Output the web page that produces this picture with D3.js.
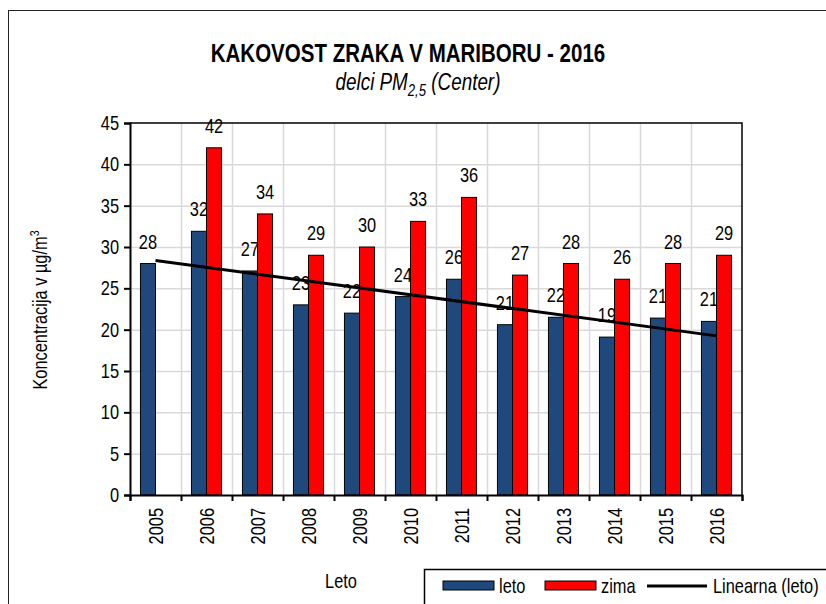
<!DOCTYPE html>
<meta charset="utf-8">
<style>
  body { margin: 0; background: #fff; }
  svg text { font-family: "Liberation Sans", Arial, sans-serif; fill: #000; }
</style>
<svg id="chart" width="826" height="604"></svg>
<script src="https://d3js.org/d3.v7.min.js"></script>
<script>

// values
var years = ["2005", "2006", "2007", "2008", "2009", "2010", "2011", "2012", "2013", "2014", "2015", "2016"];
var leto = [28, 31.9, 27.1, 23, 22, 24, 26.1, 20.6, 21.5, 19.1, 21.4, 21];
var zima = [null, 42, 34, 29, 30, 33.1, 36, 26.6, 28, 26.1, 28, 29];
var yTicks = [0, 5, 10, 15, 20, 25, 30, 35, 40, 45];
var colors = {leto: "#1f497d", zima: "#ff0000"};

// no Arial Narrow here, so squeeze normal Arial-metric text around its anchor
var NARROW = 0.82;
function narrow(sel) {
  sel.each(function() {
    var t = d3.select(this),
        tx = +t.attr("x") || 0,
        ty = +t.attr("y") || 0,
        tr = t.attr("transform") || "";
    t.attr("transform", tr + " translate(" + tx + "," + ty + ") scale(" + NARROW + ",1) translate(" + (-tx) + "," + (-ty) + ")");
  });
}

var svg = d3.select("#chart"),
    margin = {top: 123, right: 84, bottom: 109, left: 130},
    width = +svg.attr("width") - margin.left - margin.right,
    height = +svg.attr("height") - margin.top - margin.bottom;

// outer chart frame (runs off the right and bottom of the picture)
svg.append("rect")
    .attr("x", 8.5).attr("y", 10.5)
    .attr("width", 840).attr("height", 620)
    .attr("fill", "none")
    .attr("stroke", "#222")
    .attr("stroke-width", 1);

var g = svg.append("g").attr("transform", "translate(" + margin.left + "," + margin.top + ")");

var x = d3.scaleBand().domain(years).range([0, width]);
var xb = d3.scaleLinear().domain([0, years.length]).range([0, width]);
var y = d3.scaleLinear().domain([0, 45]).range([height, 0]);
var barW = x.bandwidth() * 0.295;

// grid
g.append("g")
    .call(d3.axisLeft(y).tickValues(yTicks.slice(1, -1)).tickSize(-width).tickFormat(""))
    .call(function(s) { s.select(".domain").remove(); })
    .selectAll("line").attr("stroke", "#d9d9d9").attr("stroke-width", 1.5);
g.append("g")
    .call(d3.axisBottom(xb).tickValues(d3.range(1, years.length)).tickSize(height).tickFormat(""))
    .call(function(s) { s.select(".domain").remove(); })
    .selectAll("line").attr("stroke", "#d9d9d9").attr("stroke-width", 1.5);

// frame top / right
g.append("path")
    .attr("d", d3.line()([[0, 0], [width, 0], [width, height]]))
    .attr("fill", "none").attr("stroke", "#000").attr("stroke-width", 1.5);

// bars
function bars(key, data, dx) {
  var pts = data.map(function(v, i) { return {year: years[i], v: v}; })
                .filter(function(d) { return d.v != null; });
  g.append("g").selectAll("rect")
      .data(pts).enter().append("rect")
      .attr("x", function(d) { return x(d.year) + x.bandwidth() / 2 + dx; })
      .attr("y", function(d) { return y(d.v); })
      .attr("width", barW)
      .attr("height", function(d) { return height - y(d.v); })
      .attr("fill", colors[key])
      .attr("stroke", "#000")
      .attr("stroke-width", 1);
  g.append("g").selectAll("text")
      .data(pts).enter().append("text")
      .attr("x", function(d) { return x(d.year) + x.bandwidth() / 2 + dx + barW / 2; })
      .attr("y", function(d) { return y(d.v) - 15; })
      .attr("text-anchor", "middle")
      .style("font-size", "20px")
      .text(function(d) { return d3.format(".0f")(d.v); })
      .call(narrow);
}
bars("leto", leto, -barW);
bars("zima", zima, 0);

// linear trend of leto (least squares)
var xs = leto.map(function(v, i) { return i + 1; });
var mx = d3.mean(xs), my = d3.mean(leto);
var slope = d3.sum(xs, function(xi, i) { return (xi - mx) * (leto[i] - my); }) /
            d3.sum(xs, function(xi) { return (xi - mx) * (xi - mx); });
var icpt = my - slope * mx;
var trend = [1, years.length].map(function(k) {
  return [x(years[k - 1]) + x.bandwidth() / 2, y(icpt + slope * k)];
});
g.append("path")
    .attr("d", d3.line()(trend))
    .attr("stroke", "#000").attr("stroke-width", 3).attr("fill", "none");

// axes
var ya = g.append("g")
    .call(d3.axisLeft(y).tickValues(yTicks).tickSize(6).tickPadding(5));
ya.attr("font-family", null);
ya.selectAll("text").style("font-size", "20px").call(narrow);
ya.selectAll("line, path").attr("stroke", "#000").attr("stroke-width", 2);

var xa = g.append("g").attr("transform", "translate(0," + height + ")")
    .call(d3.axisBottom(xb).tickValues(d3.range(0, years.length + 1)).tickSize(6).tickFormat(""));
xa.selectAll("line, path").attr("stroke", "#000").attr("stroke-width", 2);

var xl = g.append("g").attr("transform", "translate(0," + height + ")")
    .call(d3.axisBottom(x).tickSize(0))
    .call(function(s) { s.select(".domain").remove(); });
xl.attr("font-family", null);
xl.selectAll("text")
    .style("font-size", "20px")
    .attr("transform", "rotate(-90)")
    .attr("text-anchor", "end")
    .attr("x", -13).attr("y", 0).attr("dy", "0.35em")
    .call(narrow);

// titles
svg.append("text")
    .attr("x", 408).attr("y", 62)
    .attr("text-anchor", "middle")
    .style("font-size", "25px").style("font-weight", "bold")
    .text("KAKOVOST ZRAKA V MARIBORU - 2016")
    .call(narrow);

var sub = svg.append("text")
    .attr("x", 418).attr("y", 90)
    .attr("text-anchor", "middle")
    .style("font-size", "23px").style("font-style", "italic");
sub.append("tspan").text("delci PM");
sub.append("tspan").attr("dy", 6).style("font-size", "16px").text("2,5");
sub.append("tspan").attr("dy", -6).text(" (Center)");
sub.call(narrow);

var yt = svg.append("text")
    .attr("transform", "translate(47,310) rotate(-90)")
    .attr("text-anchor", "middle")
    .style("font-size", "20px");
yt.append("tspan").text("Koncentracija v µg/m");
yt.append("tspan").attr("dy", -8).style("font-size", "13px").text("3");
yt.call(narrow);

svg.append("text")
    .attr("x", 341).attr("y", 588)
    .attr("text-anchor", "middle")
    .style("font-size", "20px")
    .text("Leto")
    .call(narrow);

// legend
var lg = svg.append("g");
lg.append("rect")
    .attr("x", 424.5).attr("y", 569.5).attr("width", 420).attr("height", 60)
    .attr("fill", "#fff").attr("stroke", "#000").attr("stroke-width", 1.5);
var items = [
  {label: "leto", type: "bar", color: colors.leto, x: 443},
  {label: "zima", type: "bar", color: colors.zima, x: 545},
  {label: "Linearna (leto)", type: "line", color: "#000", x: 647}
];
items.forEach(function(it) {
  if (it.type === "bar") {
    lg.append("rect").attr("x", it.x).attr("y", 581).attr("width", 51).attr("height", 9)
        .attr("fill", it.color).attr("stroke", "#000").attr("stroke-width", 1);
  } else {
    lg.append("line").attr("x1", it.x).attr("x2", it.x + 60).attr("y1", 586).attr("y2", 586)
        .attr("stroke", it.color).attr("stroke-width", 3);
  }
  lg.append("text")
      .attr("x", it.x + (it.type === "bar" ? 56 : 66)).attr("y", 593)
      .style("font-size", "20px")
      .text(it.label)
      .call(narrow);
});
</script>
